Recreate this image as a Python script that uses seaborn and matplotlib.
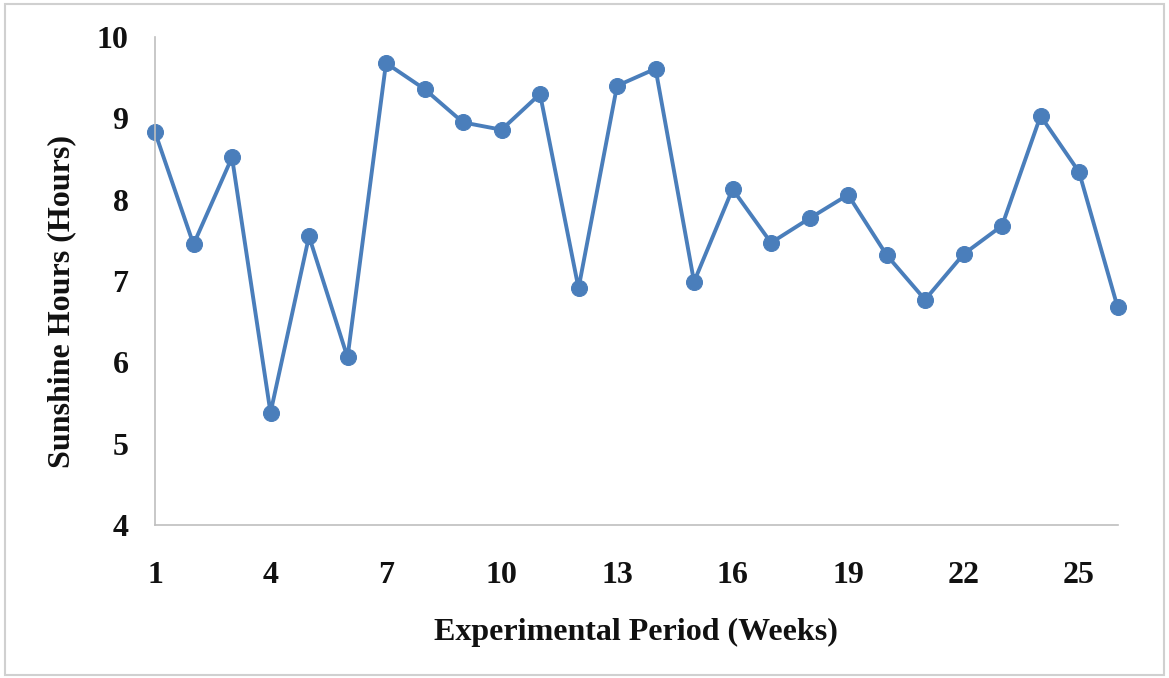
import matplotlib
matplotlib.use("Agg")
import matplotlib.pyplot as plt
import seaborn as sns
import pandas as pd

weeks = list(range(1, 27))
sunshine = [8.83, 7.45, 8.52, 5.38, 7.55, 6.06, 9.68, 9.36, 8.95, 8.86,
            9.30, 6.91, 9.40, 9.61, 6.99, 8.13, 7.47, 7.77, 8.06, 7.32,
            6.77, 7.33, 7.68, 9.03, 8.34, 6.68]
x_ticks = [1, 4, 7, 10, 13, 16, 19, 22, 25]
y_ticks = [4, 5, 6, 7, 8, 9, 10]

df = pd.DataFrame({"week": weeks, "hours": sunshine})

sns.set_style("white")
plt.rcParams['font.family'] = ['Liberation Serif', 'DejaVu Serif']

fig = plt.figure(figsize=(11.69, 6.78), dpi=100)
ax = fig.add_axes([0.1326, 0.2257, 0.8234, 0.7197])

line_color = "#4A7EBB"
sns.lineplot(data=df, x="week", y="hours", ax=ax, color=line_color,
             linewidth=2.8, marker="o", markersize=11.5,
             markeredgecolor=line_color, markerfacecolor=line_color)

ax.set_xlim(1, 26)
ax.set_ylim(4, 10)
ax.set_xticks(x_ticks)
ax.set_yticks(y_ticks)
ax.tick_params(axis="both", length=0, labelsize=23, labelcolor="#111111")
ax.tick_params(axis="x", pad=26)
ax.tick_params(axis="y", pad=19)
for lab in ax.get_xticklabels() + ax.get_yticklabels():
    lab.set_fontweight("bold")

ax.set_xlabel("Experimental Period (Weeks)", fontsize=23, fontweight="bold",
              color="#111111", labelpad=20)
ax.set_ylabel("Sunshine Hours (Hours)", fontsize=23, fontweight="bold",
              color="#111111")
ax.yaxis.set_label_coords(-0.082, 0.457)

for side in ["top", "right"]:
    ax.spines[side].set_visible(False)
for side in ["left", "bottom"]:
    ax.spines[side].set_color("#BFBFBF")
    ax.spines[side].set_linewidth(1.2)
for l in ax.lines:
    l.set_clip_on(False)

# Outer chart border
fig.patches.append(plt.Rectangle((0.004, 0.004), 0.992, 0.99, transform=fig.transFigure,
                                 fill=False, edgecolor="#D0D0D0", linewidth=1.5))

fig.savefig("out.png", dpi=100)
